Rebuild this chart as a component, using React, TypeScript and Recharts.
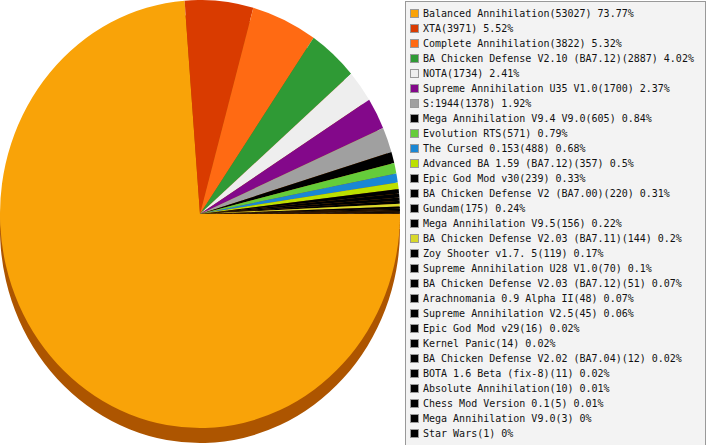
import React from 'react';
import { PieChart, Pie, Cell, Legend } from 'recharts';

const names = [
  'Balanced Annihilation',
  'XTA',
  'Complete Annihilation',
  'BA Chicken Defense V2.10 (BA7.12)',
  'NOTA',
  'Supreme Annihilation U35 V1.0',
  'S:1944',
  'Mega Annihilation V9.4 V9.0',
  'Evolution RTS',
  'The Cursed 0.153',
  'Advanced BA 1.59 (BA7.12)',
  'Epic God Mod v30',
  'BA Chicken Defense V2 (BA7.00)',
  'Gundam',
  'Mega Annihilation V9.5',
  'BA Chicken Defense V2.03 (BA7.11)',
  'Zoy Shooter v1.7. 5',
  'Supreme Annihilation U28 V1.0',
  'BA Chicken Defense V2.03 (BA7.12)',
  'Arachnomania 0.9 Alpha II',
  'Supreme Annihilation V2.5',
  'Epic God Mod v29',
  'Kernel Panic',
  'BA Chicken Defense V2.02 (BA7.04)',
  'BOTA 1.6 Beta (fix-8)',
  'Absolute Annihilation',
  'Chess Mod Version 0.1',
  'Mega Annihilation V9.0',
  'Star Wars',
];

const values = [
  53027, 3971, 3822, 2887, 1734, 1700, 1378, 605, 571, 488, 357, 239, 220, 175,
  156, 144, 119, 70, 51, 48, 45, 16, 14, 12, 11, 10, 5, 3, 1,
];

const colors = [
  '#F9A308', '#D93B00', '#FF6A13', '#2F9A35', '#EEEEEE', '#83088A', '#A0A0A0',
  '#000000', '#65CC3A', '#1A87D4', '#BCE000', '#000000', '#000000', '#000000',
  '#000000', '#D8D82A', '#000000', '#000000', '#000000', '#000000', '#000000',
  '#000000', '#000000', '#000000', '#000000', '#000000', '#000000', '#000000',
  '#000000',
];

const sideColor = '#AD5500';

const total = values.reduce((a, b) => a + b, 0);
const data = names.map((name, i) => ({ name, value: values[i] }));
const labels = names.map((name, i) => {
  const pct = Math.round((values[i] / total) * 10000) / 100;
  return `${name}(${values[i]}) ${pct}%`;
});

const LegendBox = () => (
  <div
    style={{
      width: 299,
      height: 440,
      background: '#F3F3F3',
      border: '1px solid #999999',
      boxSizing: 'content-box',
      paddingTop: 4,
      fontFamily: '"DejaVu Sans Mono", monospace',
      fontSize: 10,
      color: '#111111',
    }}
  >
    {labels.map((t, i) => (
      <div
        key={i}
        style={{ height: 15, lineHeight: '15px', display: 'flex', alignItems: 'center', whiteSpace: 'nowrap' }}
      >
        <span
          style={{
            display: 'inline-block',
            width: 7,
            height: 7,
            marginLeft: 4,
            marginRight: 4,
            background: colors[i],
            border: '1px solid #999999',
          }}
        />
        <span>{t}</span>
      </div>
    ))}
  </div>
);

export default function App() {
  return (
    <div style={{ position: 'absolute', left: 0, top: 0 }}>
      <style>{`.recharts-pie { transform: scale(1, 1.07); transform-origin: 200px 214px; }`}</style>
      <PieChart width={707} height={445} margin={{ top: 0, right: 0, bottom: 0, left: 0 }}>
        <Pie
          data={data}
          dataKey="value"
          cx={200}
          cy={228}
          outerRadius={200}
          startAngle={0}
          endAngle={-360}
          stroke="none"
          legendType="none"
          isAnimationActive={false}
        >
          {data.map((d, i) => (
            <Cell key={i} fill={sideColor} />
          ))}
        </Pie>
        <Pie
          data={data}
          dataKey="value"
          cx={200}
          cy={214}
          outerRadius={200}
          startAngle={0}
          endAngle={-360}
          stroke="none"
          isAnimationActive={false}
        >
          {data.map((d, i) => (
            <Cell key={i} fill={colors[i]} />
          ))}
        </Pie>
        <Legend
          content={() => <LegendBox />}
          wrapperStyle={{ position: 'absolute', left: 405, top: 1, width: 301, height: 442 }}
        />
      </PieChart>
    </div>
  );
}
